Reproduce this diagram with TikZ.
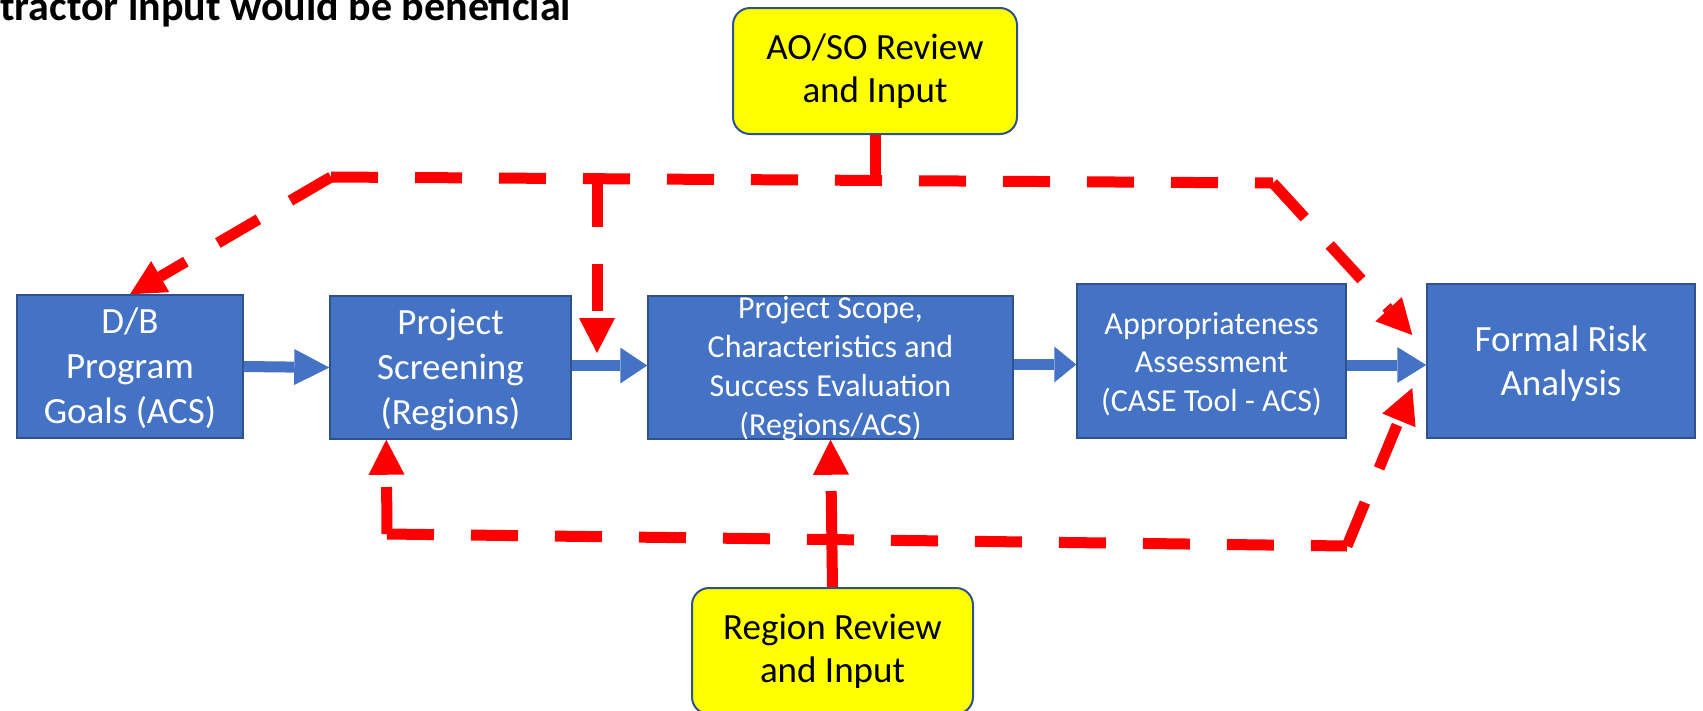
\documentclass[tikz,border=0pt]{standalone}
\usepackage{fontspec}
\setmainfont{Carlito}
\usetikzlibrary{arrows.meta,calc}
\definecolor{boxblue}{HTML}{4472C4}
\definecolor{edgeblue}{HTML}{2F528F}
\definecolor{flowred}{HTML}{FF0000}
\definecolor{notey}{HTML}{FFFF00}
\begin{document}
\begin{tikzpicture}[x=1pt,y=-1pt,
  bluebox/.style={draw=edgeblue, line width=1.5pt, fill=boxblue, inner sep=0pt},
  boxtext/.style={text=white, align=center, inner sep=0pt},
  bigtxt/.style={font=\fontsize{37}{45}\selectfont},
  smalltxt/.style={font=\fontsize{32}{39}\selectfont},
  notebox/.style={draw=edgeblue, line width=2pt, fill=notey, rounded corners=17pt, align=center, inner sep=0pt, font=\fontsize{37}{43}\selectfont},
  flowarrow/.style={draw=boxblue, line width=11pt},
  redline/.style={draw=flowred, line width=11pt},
  reddash/.style={redline, dash pattern=on 47pt off 37pt},
  redtip/.style={-{Triangle[length=35pt,width=36pt,line width=0pt]}},
]
\useasboundingbox (0,0) rectangle (1703,710);

% title fragment
\node[anchor=base west, inner sep=0pt, font=\bfseries\fontsize{42}{50}\selectfont] (title) at (0,20) {tractor input would be beneficial};

% main process boxes
\node[bluebox, minimum width=226pt, minimum height=143pt] (b1) at (130,366.5) {};
\node[boxtext, bigtxt] (b1t) at (130,368) {D/B\\Program\\Goals (ACS)};
\node[bluebox, minimum width=241pt, minimum height=143pt] (b2) at (450.5,367.5) {};
\node[boxtext, bigtxt] (b2t) at (450.5,370) {Project\\Screening\\(Regions)};
\node[bluebox, minimum width=365pt, minimum height=143pt] (b3) at (830.5,367.5) {};
\node[boxtext, smalltxt] (b3t) at (830.5,369) {Project Scope,\\Characteristics and\\Success Evaluation\\(Regions/ACS)};
\node[bluebox, minimum width=269pt, minimum height=154pt] (b4) at (1211.5,361) {};
\node[boxtext, font=\fontsize{32}{38.5}\selectfont] (b4t) at (1211.5,364) {Appropriateness\\Assessment\\(CASE Tool - ACS)};
\node[bluebox, minimum width=268pt, minimum height=154pt] (b5) at (1561,361) {};
\node[boxtext, font=\fontsize{37}{44}\selectfont] (b5t) at (1561,364) {Formal Risk\\Analysis};

% review boxes
\node[notebox, minimum width=284pt, minimum height=126pt] (ao) at (875,71) {AO/SO Review\\and Input};
\node[notebox, minimum width=281pt, minimum height=126pt] (rg) at (832.5,651) {Region Review\\and Input};

% blue flow arrows
\draw[flowarrow, -{Triangle[length=35pt,width=36pt,line width=0pt]}] (b1.east) -- (b2.west);
\draw[flowarrow, -{Triangle[length=27pt,width=36pt,line width=0pt]}] ($(b2.east)+(0,-2)$) -- ($(b3.west)+(0,-2)$);
\draw[flowarrow, -{Triangle[length=22pt,width=36pt,line width=0pt]}] ($(b3.east)+(0,-3)$) -- ($(b3.east -| b4.west)+(0,-3)$);
\draw[flowarrow, -{Triangle[length=29pt,width=36pt,line width=0pt]}] ($(b4.east)+(0,4)$) -- ($(b5.west)+(0,4)$);

% red review paths
\coordinate (tl) at (331,177);
\coordinate (tr) at (1273,183);
\coordinate (tj) at (875,186);
\coordinate (tv) at (597,180);
\coordinate (vtip) at (597,353);
\coordinate (rtipA) at ($(b5.west)+(-14,-26)$);
\coordinate (rtipB) at ($(b5.west)+(-14,27)$);
\coordinate (bl) at (387,534);
\coordinate (br) at (1347,546);
\coordinate (ltip) at ($(b2.south west)+(57,0)$);

\draw[redline] (ao.south) -- (tj);
\draw[reddash] (tl) -- (tr);
\draw[reddash, redtip] (tl) -- (b1.north);
\draw[reddash, redtip] (tr) -- (rtipA);
\draw[reddash, redtip] (tv) -- (vtip);
\draw[redline, dash pattern=on 96pt off 60pt, redtip] (rg.north) -- (b3.south);
\draw[reddash] (bl) -- (br);
\draw[reddash, redtip] (bl) -- (ltip);
\draw[reddash, redtip] (br) -- (rtipB);
\end{tikzpicture}
\end{document}
